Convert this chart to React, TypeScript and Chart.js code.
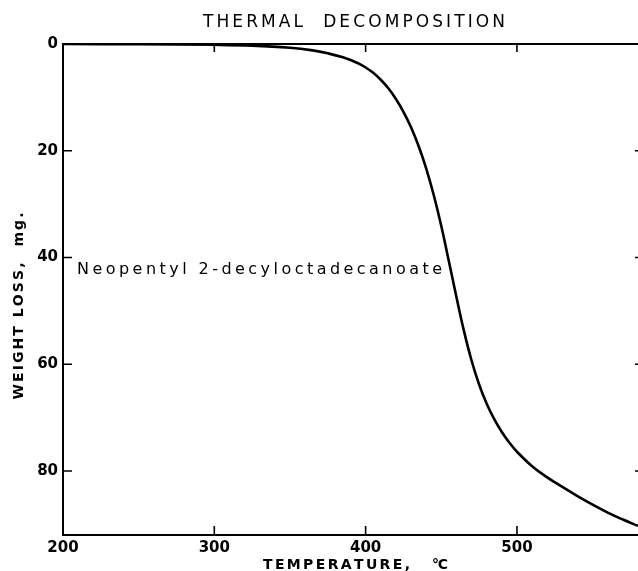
import { useEffect, useRef } from "react";
import { Chart, registerables } from "chart.js";

Chart.register(...registerables);

// ---- data ----
const temperatures = [200, 250, 300, 325, 350, 365, 375, 385, 395, 400, 405, 410, 415, 420, 425, 430, 435, 440, 445, 450, 455, 460, 465, 470, 475, 480, 485, 490, 495, 500, 510, 520, 530, 540, 550, 560, 570, 580];
const weightLoss = [0, 0.05, 0.15, 0.3, 0.7, 1.2, 1.75, 2.5, 3.6, 4.4, 5.4, 6.7, 8.3, 10.3, 12.7, 15.6, 19.1, 23.3, 28.3, 34.1, 40.7, 47.4, 53.8, 59.3, 63.8, 67.4, 70.3, 72.7, 74.7, 76.4, 79.1, 81.2, 83.0, 84.7, 86.3, 87.8, 89.1, 90.3];
const xTicks = [200, 300, 400, 500];
const yTicks = [0, 20, 40, 60, 80];
const xInnerTicks = [300, 400, 500];
const yInnerTicks = [20, 40, 60, 80];
const titleText = "THERMAL  DECOMPOSITION";
const xTitleText = "TEMPERATURE,";
const xUnitText = "°C";
const yTitleText = "WEIGHT LOSS,  mg.";
const seriesLabel = "Neopentyl 2-decyloctadecanoate";

const FONT = "'DejaVu Sans', 'Liberation Sans', sans-serif";

function drawSpaced(ctx: CanvasRenderingContext2D, text: string, x: number, y: number, width: number, align: "center" | "left") {
  const chars = Array.from(text);
  const widths = chars.map((c) => ctx.measureText(c).width);
  const total = widths.reduce((a, b) => a + b, 0);
  const gap = chars.length > 1 ? (width - total) / (chars.length - 1) : 0;
  let cx = align === "center" ? x - width / 2 : x;
  ctx.textAlign = "left";
  chars.forEach((c, i) => {
    ctx.fillText(c, cx, y);
    cx += widths[i] + gap;
  });
}

const decorPlugin = {
  id: "decor",
  afterDraw(chart: any) {
    const ctx: CanvasRenderingContext2D = chart.ctx;
    const { left, right, top, bottom } = chart.chartArea;
    const xs = chart.scales.x;
    const ys = chart.scales.y;
    ctx.save();
    ctx.strokeStyle = "#000";
    ctx.fillStyle = "#000";
    ctx.lineWidth = 2;
    // frame: left, top, bottom
    ctx.beginPath();
    ctx.moveTo(left, top);
    ctx.lineTo(right, top);
    ctx.moveTo(left, top - 1);
    ctx.lineTo(left, bottom + 1);
    ctx.moveTo(left, bottom);
    ctx.lineTo(right, bottom);
    ctx.stroke();
    // inner ticks
    ctx.lineWidth = 1.6;
    ctx.beginPath();
    xInnerTicks.forEach((v) => {
      const px = xs.getPixelForValue(v);
      ctx.moveTo(px, bottom);
      ctx.lineTo(px, bottom - 9);
      ctx.moveTo(px, top);
      ctx.lineTo(px, top + 8);
    });
    yInnerTicks.forEach((v) => {
      const py = ys.getPixelForValue(v);
      ctx.moveTo(left, py);
      ctx.lineTo(left + 9, py);
      ctx.moveTo(right, py);
      ctx.lineTo(right - 3, py);
    });
    ctx.stroke();

    // title
    ctx.textBaseline = "alphabetic";
    ctx.font = `17px ${FONT}`;
    drawSpaced(ctx, titleText, 354, 27, 302, "center");

    // x axis title
    ctx.font = `bold 14px ${FONT}`;
    drawSpaced(ctx, xTitleText, 263, 569, 147, "left");
    ctx.font = `bold 14px ${FONT}`;
    drawSpaced(ctx, xUnitText, 432, 569, 16, "left");

    // y axis title (rotated)
    ctx.save();
    ctx.translate(23, 306);
    ctx.rotate(-Math.PI / 2);
    ctx.font = `bold 14px ${FONT}`;
    drawSpaced(ctx, yTitleText, 0, 0, 187, "center");
    ctx.restore();

    // series annotation
    ctx.font = `16px ${FONT}`;
    drawSpaced(ctx, seriesLabel, 77, 274, 365, "left");
    ctx.restore();
  },
};

export default function App() {
  const canvasRef = useRef<HTMLCanvasElement | null>(null);

  useEffect(() => {
    const canvas = canvasRef.current;
    if (!canvas) return;
    const chart = new Chart(canvas, {
      type: "line",
      data: {
        datasets: [
          {
            label: seriesLabel,
            data: temperatures.map((t, i) => ({ x: t, y: weightLoss[i] })),
            borderColor: "#000",
            borderWidth: 2.6,
            pointRadius: 0,
            tension: 0.4,
            fill: false,
          },
        ],
      },
      options: {
        responsive: false,
        animation: false,
        layout: { padding: { top: 44, right: 0, left: 0, bottom: 0 } },
        plugins: { legend: { display: false }, tooltip: { enabled: false }, title: { display: false } },
        scales: {
          x: {
            type: "linear",
            min: 200,
            max: 580,
            afterBuildTicks: (s: any) => {
              s.ticks = xTicks.map((v) => ({ value: v }));
            },
            afterFit: (s: any) => {
              s.height = 36;
            },
            grid: { display: false, drawTicks: false },
            border: { display: false },
            ticks: {
              color: "#000",
              padding: 4,
              maxRotation: 0,
              autoSkip: false,
              font: { family: FONT, size: 15, weight: "bold" },
            },
          },
          y: {
            type: "linear",
            min: 0,
            max: 92,
            reverse: true,
            afterBuildTicks: (s: any) => {
              s.ticks = yTicks.map((v) => ({ value: v }));
            },
            afterFit: (s: any) => {
              s.width = 63;
            },
            grid: { display: false, drawTicks: false },
            border: { display: false },
            ticks: {
              color: "#000",
              padding: 5,
              autoSkip: false,
              font: { family: FONT, size: 15, weight: "bold" },
            },
          },
        },
      },
      plugins: [decorPlugin],
    } as any);
    return () => chart.destroy();
  }, []);

  return (
    <div style={{ position: "absolute", left: 0, top: 0, width: 638, height: 571, background: "#fff" }}>
      <canvas ref={canvasRef} width={638} height={571} style={{ display: "block" }} />
    </div>
  );
}
